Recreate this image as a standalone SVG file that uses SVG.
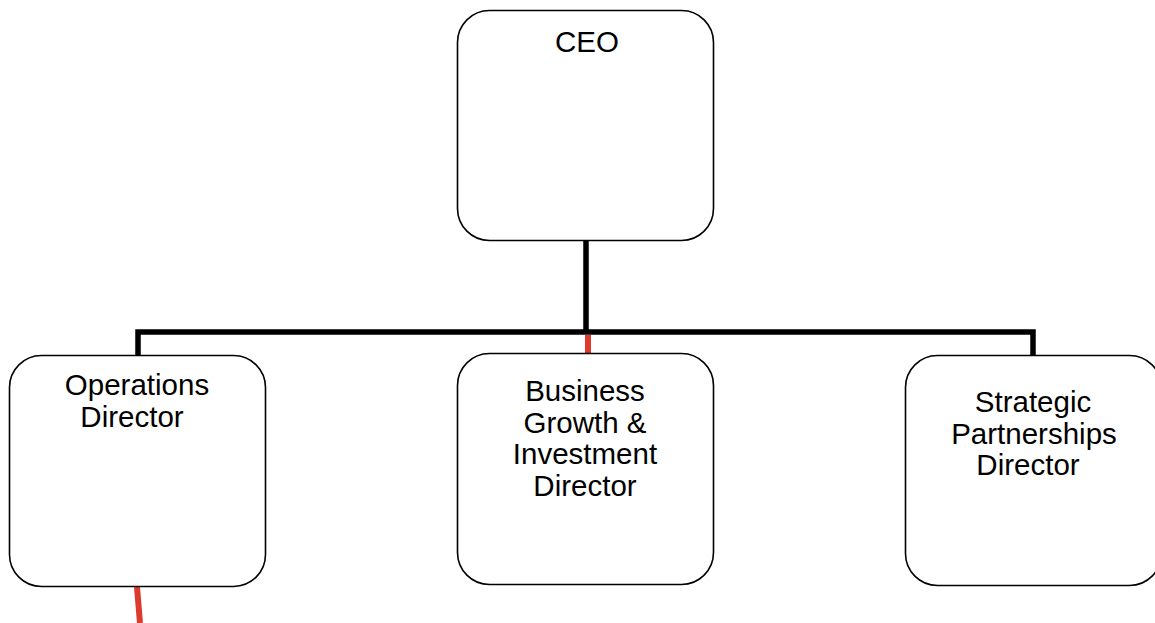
<svg xmlns="http://www.w3.org/2000/svg" width="1155" height="623" viewBox="0 0 1155 623">
<style>
.box{fill:#fff;stroke:#000;stroke-width:1.6}
.lbl{font-family:"Liberation Sans",Arial,sans-serif;font-size:29.5px;fill:#000;text-anchor:middle}
.conn{stroke:#000;stroke-width:5.5;fill:none}
.red{stroke:#dc3a2c;stroke-width:6;fill:none}
</style>
<rect width="1155" height="623" fill="#fff"/>
<g id="connectors">
<path class="conn" d="M586 240 V332 M138 355 V332 H1033 V355"/>
<path class="red" d="M588 335 V354"/>
<path class="red" d="M137 587 L140 623"/>
</g>
<g id="ceo">
<rect class="box" x="457.5" y="10.5" width="256" height="230" rx="32"/>
<text class="lbl" x="587" y="52">CEO</text>
</g>
<g id="ops">
<rect class="box" x="9.5" y="355.5" width="256" height="231" rx="32"/>
<text class="lbl" x="137" y="395">Operations</text>
<text class="lbl" x="132" y="427">Director</text>
</g>
<g id="bgi">
<rect class="box" x="457.5" y="353.5" width="256" height="231" rx="32"/>
<text class="lbl" x="585" y="401">Business</text>
<text class="lbl" x="585" y="432.5">Growth &amp;</text>
<text class="lbl" x="585" y="464">Investment</text>
<text class="lbl" x="585" y="495.5">Director</text>
</g>
<g id="spd">
<rect class="box" x="905.5" y="355.5" width="256" height="230" rx="32"/>
<text class="lbl" x="1033" y="412">Strategic</text>
<text class="lbl" x="1034" y="443.5">Partnerships</text>
<text class="lbl" x="1028" y="475">Director</text>
</g>
</svg>
